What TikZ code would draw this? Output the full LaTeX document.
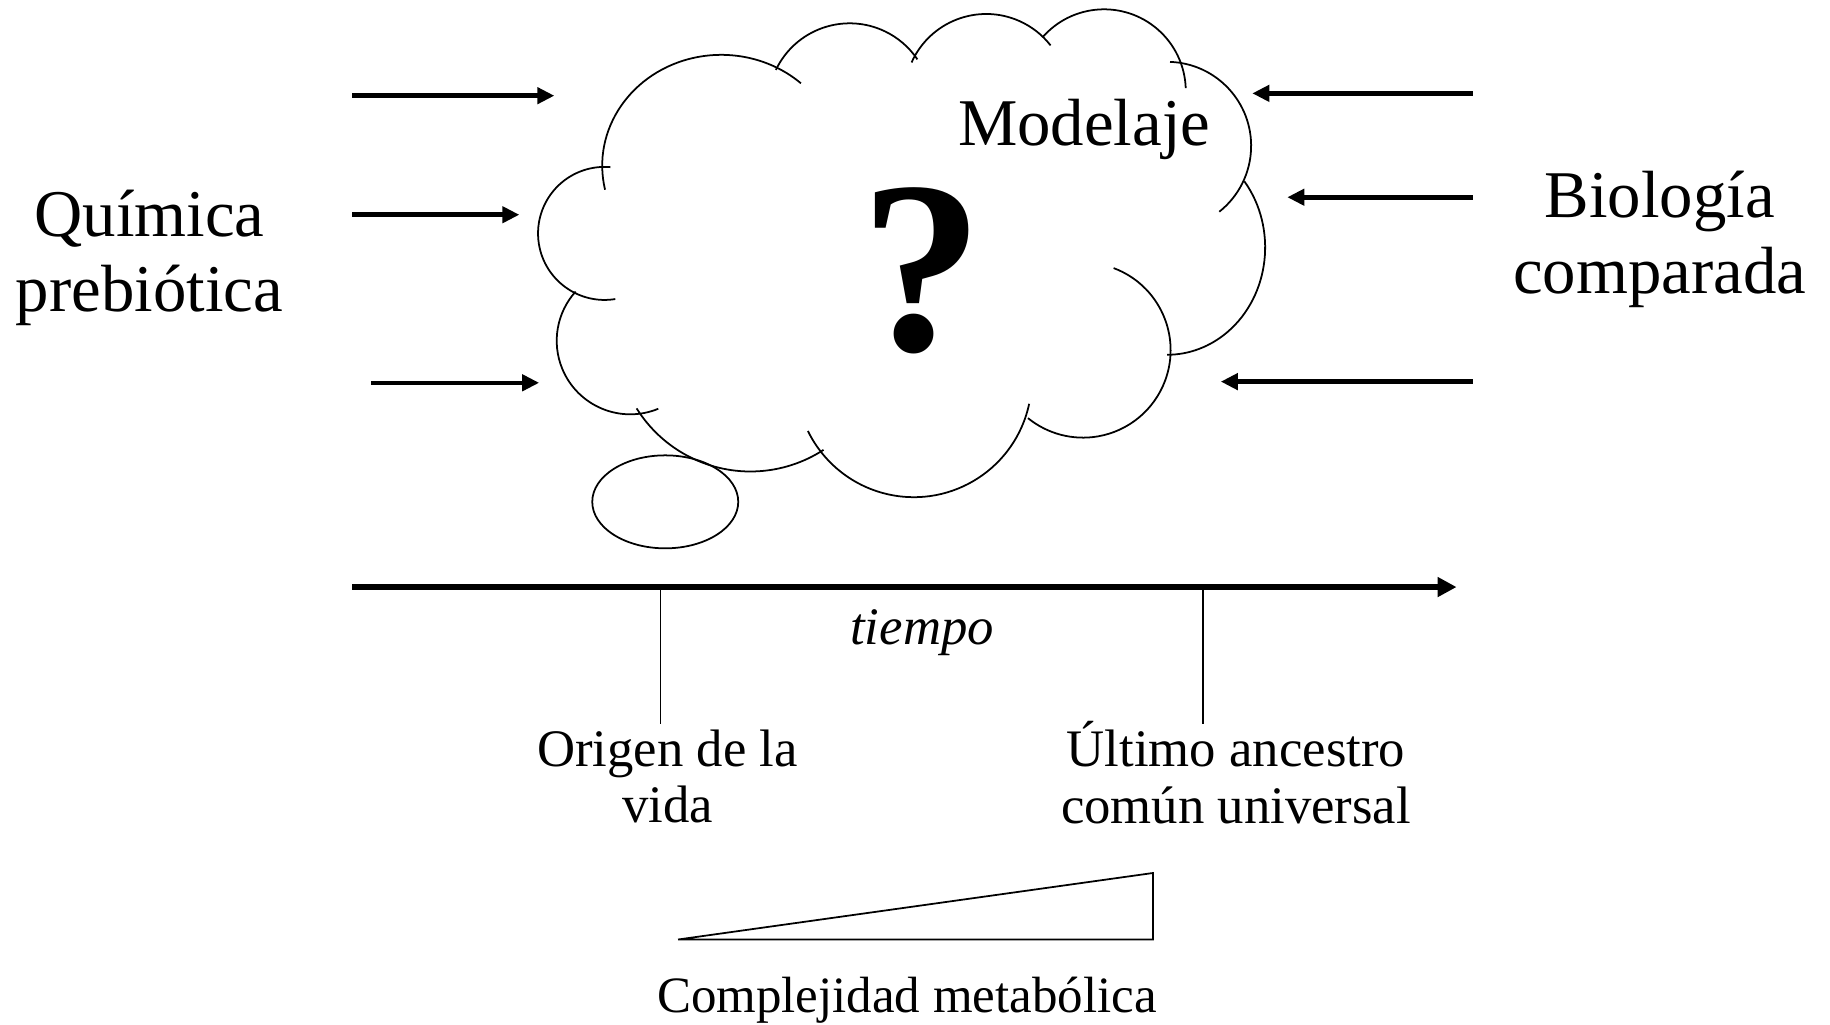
\documentclass[tikz,border=0pt]{standalone}
\usepackage{fontspec}
\setmainfont{Liberation Serif}
\usepackage{tikz}
\usetikzlibrary{positioning,shapes,arrows,arrows.meta}
\tikzstyle{campo} = [align=center, font=\fontsize{19}{21.5}\selectfont]
\tikzstyle{etiqueta} = [align=center, font=\fontsize{15}{16}\selectfont]
\tikzstyle{connect} = [line width=1.3pt,-{Triangle[length=1.7mm,width=1.6mm]}]
\tikzstyle{eje} = [line width=1.5pt,-{Triangle[length=1.9mm,width=1.9mm]}]
\tikzstyle{fina} = [line width=0.5pt]

\begin{document}
\begin{tikzpicture}[x=0.011671cm,y=-0.011671cm]
			\useasboundingbox (0,0) rectangle (1568,878);
			% nube
			\draw [fina] (618,142) ++(167.5:102 and 95) arc[start angle=167.5, end angle=312, x radius=102, y radius=95];
			\draw [fina] (728,90) ++(205.5:70) arc[start angle=205.5, end angle=326, radius=70];
			\draw [fina] (845,82) ++(204:70) arc[start angle=204, end angle=322, radius=70];
			\draw [fina] (946,78) ++(221:70) arc[start angle=221, end angle=358, radius=70];
			\draw [fina] (1000,125) ++(272:72) arc[start angle=272, end angle=411.6, radius=72];
			\draw [fina] (1000,212) ++(322:84 and 92) arc[start angle=322, end angle=450, x radius=84, y radius=92];
			\draw [fina] (928,300) ++(290.4:75) arc[start angle=290.4, end angle=489, radius=75];
			\draw [fina] (783,325) ++(12:101) arc[start angle=12, end angle=154, radius=101];
			\draw [fina] (643,289) ++(57:115) arc[start angle=57, end angle=148, radius=115];
			\draw [fina] (540,292) ++(67.6:63) arc[start angle=67.6, end angle=222, radius=63];
			\draw [fina] (518,200) ++(80.7:57) arc[start angle=80.7, end angle=275, radius=57];
			\node (burbuja) [ellipse, draw, fina, inner sep=0pt, minimum width=1.46cm, minimum height=0.93cm] at (570,430) {};
			\node (modelo) [campo, anchor=base] at (929,125) {Modelaje};
			\node (duda) [anchor=base, font=\fontsize{70}{70}\selectfont\bfseries] at (790,300) {?};
			\node (quim) [campo] at (128,221) {Química\\prebiótica};
			\node (bio) [campo] at (1422,205) {Biología\\comparada};

			\coordinate (q1) at (302,82);  \coordinate (n1) at (475,82);
			\coordinate (q2) at (302,184); \coordinate (n2) at (445,184);
			\coordinate (q3) at (318,328); \coordinate (n3) at (462,328);
			\coordinate (b1) at (1262,80);  \coordinate (n4) at (1073,80);
			\coordinate (b2) at (1262,169); \coordinate (n5) at (1103,169);
			\coordinate (b3) at (1262,327); \coordinate (n6) at (1046,327);

			\draw [connect] (q1) -- (n1);
			\draw [connect] (q2) -- (n2);
			\draw [connect] (q3) -- (n3);
			\draw [connect] (b1) -- (n4);
			\draw [connect] (b2) -- (n5);
			\draw [connect] (b3) -- (n6);

			% eje del tiempo
			\coordinate (t0) at (302,503); \coordinate (t1) at (1248,503);
			\coordinate (m1) at (566,503); \coordinate (m1b) at (566,620);
			\coordinate (m2) at (1031,503); \coordinate (m2b) at (1031,620);
			\draw [eje] (t0) -- (t1);
			\draw [fina] (m1) -- (m1b);
			\draw [fina] (m2) -- (m2b);

			\node (tiempo) [etiqueta, font=\fontsize{15}{16}\selectfont\itshape] at (790,542) {tiempo};
			\node (orig) [etiqueta] at (572,665) {Origen de la\\vida};
			\node (luca) [etiqueta] at (1059,662) {Último ancestro\\común universal};

			\coordinate (c1) at (581,805); \coordinate (c2) at (988,805); \coordinate (c3) at (988,748);
			\draw [fina] (c1) -- (c2) -- (c3) -- cycle;
			\node (compl) [etiqueta, font=\fontsize{14.5}{16}\selectfont] at (777,857) {Complejidad metabólica};

			\end{tikzpicture}
\end{document}
